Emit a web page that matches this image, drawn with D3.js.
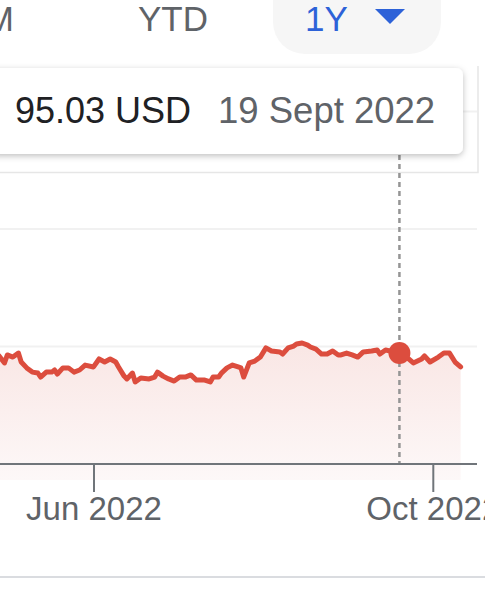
<!DOCTYPE html>
<html>
<head>
<meta charset="utf-8">
<script src="https://cdn.jsdelivr.net/npm/d3@7"></script>
<style>
  html, body { margin: 0; padding: 0; background: #fff; }
  svg { display: block; font-family: "Liberation Sans", Arial, sans-serif; }
</style>
</head>
<body>
<svg id="chart" width="485" height="600"></svg>
<script>
// ---------- data ----------
const tabLabels = ["6M", "YTD", "1Y"];
const priceDates = [
  "2022-04-28","2022-04-30","2022-05-01","2022-05-03","2022-05-05","2022-05-06","2022-05-08","2022-05-10",
  "2022-05-12","2022-05-13","2022-05-15","2022-05-17","2022-05-18","2022-05-19","2022-05-21","2022-05-23",
  "2022-05-25","2022-05-27","2022-05-29","2022-06-01","2022-06-03","2022-06-05","2022-06-07","2022-06-09",
  "2022-06-10","2022-06-12","2022-06-13","2022-06-15","2022-06-16","2022-06-18","2022-06-21","2022-06-23",
  "2022-06-24","2022-06-26","2022-06-28","2022-06-30","2022-07-02","2022-07-04","2022-07-06","2022-07-08",
  "2022-07-11","2022-07-13","2022-07-14","2022-07-16","2022-07-17","2022-07-19","2022-07-21","2022-07-23",
  "2022-07-24","2022-07-25","2022-07-27","2022-07-29","2022-07-31","2022-08-02","2022-08-04","2022-08-07",
  "2022-08-08","2022-08-10","2022-08-12","2022-08-13","2022-08-15","2022-08-17","2022-08-18","2022-08-20",
  "2022-08-22","2022-08-24","2022-08-26","2022-08-28","2022-08-29","2022-08-31","2022-09-02","2022-09-04",
  "2022-09-06","2022-09-09","2022-09-11","2022-09-12","2022-09-14","2022-09-19","2022-09-20","2022-09-22",
  "2022-09-24","2022-09-27","2022-09-28","2022-09-30","2022-10-03","2022-10-05","2022-10-07","2022-10-09",
  "2022-10-11"
];
const priceValues = [
  94.60,94.30,94.64,94.55,94.72,94.34,94.09,93.91,
  93.87,93.70,93.91,93.91,94.00,93.83,94.09,94.09,
  93.91,94.00,94.21,94.13,94.47,94.34,94.47,94.34,
  94.13,93.74,93.62,93.87,93.49,93.66,93.62,93.70,
  93.91,93.74,93.62,93.53,93.70,93.70,93.79,93.57,
  93.57,93.49,93.70,93.70,93.87,94.09,94.21,94.13,
  94.09,93.70,94.30,94.38,94.55,94.94,94.81,94.77,
  94.68,94.94,95.02,95.11,95.15,95.06,94.98,94.89,
  94.68,94.68,94.81,94.64,94.64,94.72,94.64,94.55,
  94.77,94.81,94.85,94.68,94.85,94.72,94.60,94.51,
  94.30,94.47,94.60,94.34,94.55,94.72,94.72,94.34,
  94.13
];
const gridValues = [95, 100, 105];
const tickDates = ["2022-06-01", "2022-10-01"];
const hoverDate = "2022-09-19";
const hoverPrice = "95.03 USD";
const hoverLabel = "19 Sept 2022";

// ---------- setup ----------
const parse = d3.timeParse("%Y-%m-%d");
const series = priceDates.map((d, i) => ({ date: parse(d), value: priceValues[i] }));
const svg = d3.select("#chart");
const W = 485;

const x = d3.scaleTime()
  .domain([parse("2022-06-01"), parse("2022-10-01")])
  .range([93.5, 432.8]);
const y = d3.scaleLinear().domain([90, 100]).range([464, 229]);
const axisY = y(90);
const plotRight = 477;

// defs
const defs = svg.append("defs");
const grad = defs.append("linearGradient").attr("id", "areaGrad")
  .attr("x1", 0).attr("y1", 0).attr("x2", 0).attr("y2", 1);
grad.append("stop").attr("offset", "0%").attr("stop-color", "#f9e6e4");
grad.append("stop").attr("offset", "100%").attr("stop-color", "#fdf8f8");
const shadow = defs.append("filter").attr("id", "shadow")
  .attr("x", "-10%").attr("y", "-30%").attr("width", "120%").attr("height", "170%");
shadow.append("feDropShadow").attr("dx", 0).attr("dy", 2).attr("stdDeviation", 3)
  .attr("flood-color", "#000").attr("flood-opacity", 0.25);

// ---------- top tabs ----------
svg.append("rect").attr("x", 273).attr("y", -40).attr("width", 168).attr("height", 94)
  .attr("rx", 32).attr("fill", "#f6f6f6");
const tabX = [14, 173, 305];
const tabAnchor = ["end", "middle", "start"];
svg.selectAll("text.tab").data(tabLabels).join("text")
  .attr("class", "tab")
  .attr("x", (d, i) => tabX[i]).attr("y", 31)
  .attr("text-anchor", (d, i) => tabAnchor[i])
  .attr("font-size", 35)
  .attr("fill", (d, i) => i === 2 ? "#2d62d8" : "#5f6368")
  .text(d => d);
svg.append("path").attr("d", "M375,9 L405,9 L390,24 Z").attr("fill", "#2d62d8");

// ---------- background card frame (right and bottom edges) ----------
svg.append("path").attr("d", "M478,66 V172.5 H0")
  .attr("fill", "none").attr("stroke", "#e6e6e6").attr("stroke-width", 1.5);

// ---------- gridlines ----------
svg.selectAll("line.grid").data(gridValues).join("line")
  .attr("class", "grid")
  .attr("x1", 0).attr("x2", plotRight)
  .attr("y1", d => y(d)).attr("y2", d => y(d))
  .attr("stroke", "#f1f1f1").attr("stroke-width", 2);

// ---------- area & line ----------
const area = d3.area()
  .x(d => x(d.date)).y0(axisY + 16).y1(d => y(d.value));
svg.append("path").datum(series).attr("d", area).attr("fill", "url(#areaGrad)");

// hover dashed line
const hx = x(parse(hoverDate));
svg.append("line").attr("x1", hx).attr("x2", hx).attr("y1", 155).attr("y2", axisY)
  .attr("stroke", "#959595").attr("stroke-width", 2.5).attr("stroke-dasharray", "5,4");

const line = d3.line().x(d => x(d.date)).y(d => y(d.value));
svg.append("path").datum(series).attr("d", line)
  .attr("fill", "none").attr("stroke", "#dc4d3e").attr("stroke-width", 5)
  .attr("stroke-linejoin", "round").attr("stroke-linecap", "round");

// ---------- x axis ----------
const xAxis = d3.axisBottom(x)
  .tickValues(tickDates.map(parse))
  .tickFormat(d3.timeFormat("%b %Y"))
  .tickSize(28).tickSizeOuter(0).tickPadding(5);
const gx = svg.append("g").attr("transform", `translate(0,${axisY})`).call(xAxis);
gx.select(".domain").attr("d", `M0,0H${plotRight}`).attr("stroke", "#70757a").attr("stroke-width", 2);
gx.selectAll(".tick line").attr("stroke", "#70757a").attr("stroke-width", 2);
gx.selectAll(".tick text").attr("fill", "#5f6368").attr("font-size", 33)
  .attr("font-family", "'Liberation Sans', Arial, sans-serif");

// hover dot
const hoverPoint = series.find(d => +d.date === +parse(hoverDate));
svg.append("circle").attr("cx", hx).attr("cy", y(hoverPoint.value)).attr("r", 11)
  .attr("fill", "#dc4d3e");

// ---------- tooltip ----------
svg.append("rect").attr("x", -10).attr("y", 68).attr("width", 473).attr("height", 86)
  .attr("rx", 7).attr("fill", "#fff").attr("filter", "url(#shadow)");
svg.append("text").attr("x", 15).attr("y", 123).attr("font-size", 36)
  .attr("fill", "#202124").text(hoverPrice);
svg.append("text").attr("x", 218).attr("y", 123).attr("font-size", 36.5)
  .attr("fill", "#5f6368").text(hoverLabel);

// ---------- bottom divider ----------
svg.append("line").attr("x1", 0).attr("x2", W).attr("y1", 577).attr("y2", 577)
  .attr("stroke", "#dadce0").attr("stroke-width", 2);
</script>
</body>
</html>
